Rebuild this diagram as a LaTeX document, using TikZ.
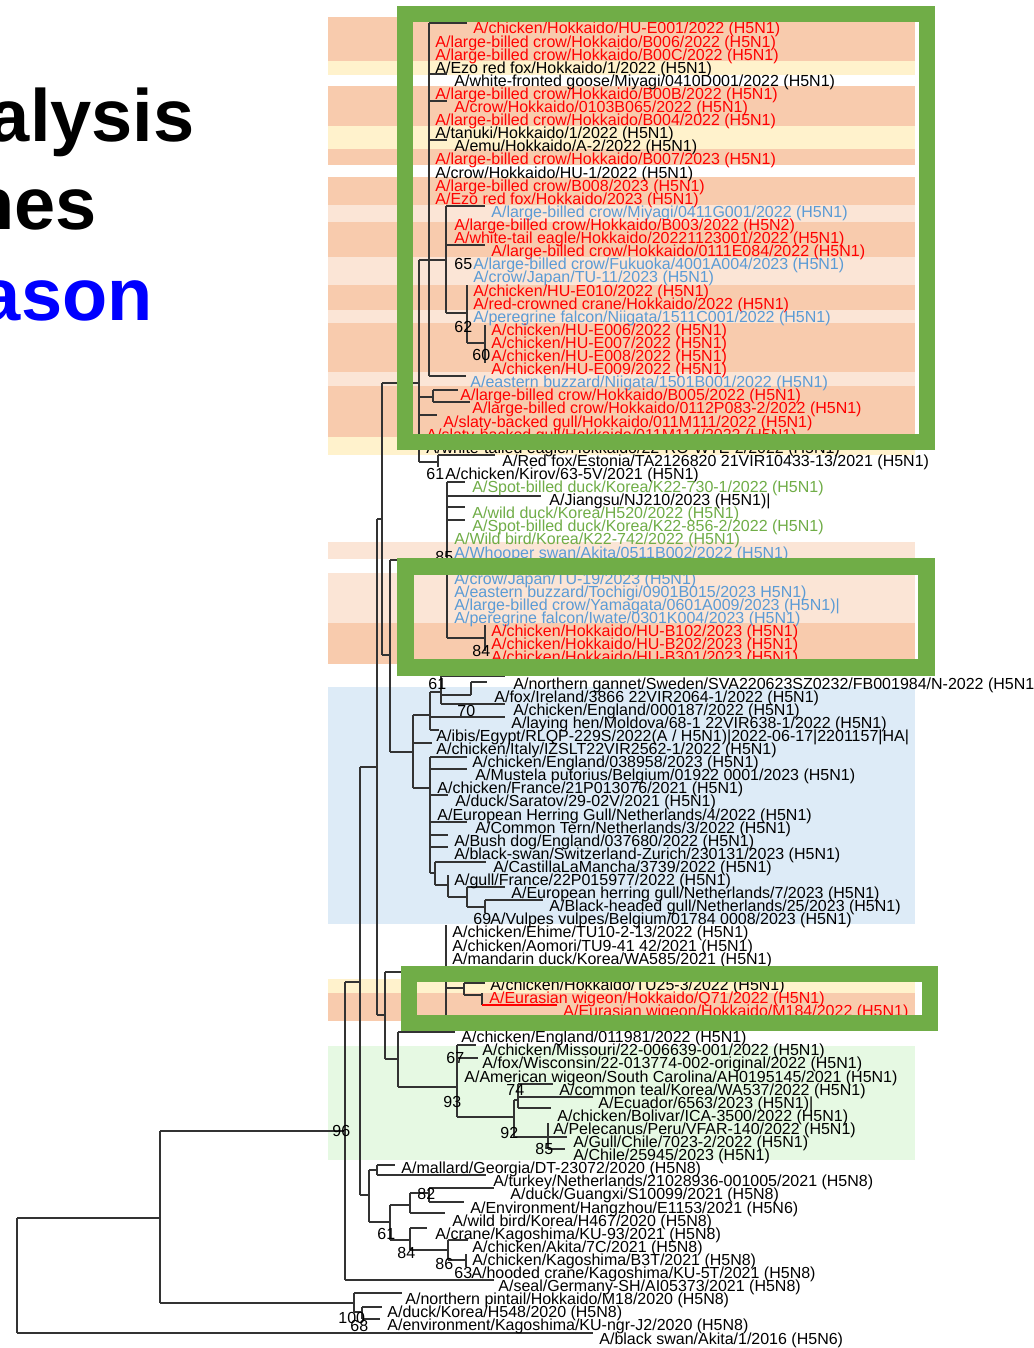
\documentclass[tikz,border=0pt]{standalone}
\usepackage{fontspec}
\setmainfont{Liberation Sans}
\definecolor{tred}{HTML}{FF0000}
\definecolor{tblue}{HTML}{5B9BD5}
\definecolor{tgreen}{HTML}{70AD47}
\definecolor{bsalmon}{HTML}{F8CBAD}
\definecolor{bcream}{HTML}{FFF2CC}
\definecolor{bpeach}{HTML}{FBE5D6}
\definecolor{bblue}{HTML}{DDEBF7}
\definecolor{bgreen}{HTML}{E6F9E3}
\definecolor{frameg}{HTML}{70AD47}
\definecolor{ttlblue}{HTML}{0000FF}
\newcommand\leafnode[5]{\node[leaf,text=#4] (#1) at (#2,{28.5+13.1*(#3-1)}) {#5};}
\newcommand\bsnode[4]{\node[bsl] (#1) at (#2,#3) {#4};}
\newcommand\hbr[3]{\draw[br] (#2,#1) -- (#3,#1);}
\newcommand\vbr[3]{\draw[br] (#1,#2) -- (#1,#3);}
\newcommand\bandrow[3]{\fill[#1] (328,#2) rectangle (915,#3);}
\tikzset{
  leaf/.style={anchor=base west, inner sep=0pt, yshift=-2.75pt, font=\fontsize{8}{9}\selectfont},
  bsl/.style={anchor=west, inner sep=0pt, font=\fontsize{8}{9}\selectfont},
  br/.style={draw=black!80, line width=0.55pt},
  frame/.style={draw=frameg},
  ttl/.style={anchor=base east, inner sep=0pt, font=\fontsize{37}{40}\selectfont\bfseries}
}
\begin{document}
\begin{tikzpicture}[x=0.5pt,y=-0.5pt]
\useasboundingbox (0,0) rectangle (1033,1348);
\fill[white] (0,0) rectangle (1033,1348);
% background bands
\bandrow{bsalmon}{17}{61}
\bandrow{bcream}{61}{75}
\bandrow{bsalmon}{86}{126}
\bandrow{bcream}{126}{149}
\bandrow{bsalmon}{149}{165}
\bandrow{bsalmon}{177}{205}
\bandrow{bpeach}{205}{222}
\bandrow{bsalmon}{222}{257}
\bandrow{bpeach}{257}{285}
\bandrow{bsalmon}{285}{310}
\bandrow{bpeach}{310}{323}
\bandrow{bsalmon}{323}{372}
\bandrow{bpeach}{372}{386}
\bandrow{bsalmon}{386}{437}
\bandrow{bcream}{437}{455}
\bandrow{bpeach}{542}{559}
\bandrow{bpeach}{573}{623}
\bandrow{bsalmon}{623}{664}
\bandrow{bblue}{687}{924}
\bandrow{bcream}{979}{993}
\bandrow{bsalmon}{993}{1021}
\bandrow{bgreen}{1046}{1160}
% root
\vbr{17}{1218}{1333}
\hbr{1218}{17}{160}
\hbr{1333}{17}{593}
\vbr{160}{1131}{1303}
\hbr{1131}{160}{345}
\hbr{1303}{160}{354}
\vbr{354}{1293}{1312}
\hbr{1293}{354}{402}
\hbr{1312}{354}{362}
\vbr{362}{1307}{1319}
\hbr{1307}{362}{382}
\hbr{1319}{362}{380}
% node 345 / 360
\vbr{345}{982}{1280}
\hbr{1280}{345}{494}
\hbr{982}{345}{360}
\vbr{360}{767}{1195}
\hbr{767}{360}{377}
\hbr{1195}{360}{369}
% H5N8 clade
\vbr{369}{1170}{1222}
\hbr{1170}{369}{377}
\vbr{377}{1165}{1175}
\hbr{1165}{377}{395}
\hbr{1175}{377}{486}
\hbr{1222}{369}{390}
\vbr{390}{1205}{1240}
\hbr{1205}{390}{410}
\vbr{410}{1193}{1213}
\hbr{1193}{410}{429}
\vbr{429}{1188}{1202}
\hbr{1188}{429}{494}
\hbr{1202}{429}{464}
\hbr{1213}{410}{445}
\hbr{1240}{390}{410}
\vbr{410}{1228}{1250}
\hbr{1228}{410}{427}
\hbr{1250}{410}{448}
\vbr{448}{1240}{1260}
\hbr{1240}{448}{468}
\hbr{1260}{448}{466}
\vbr{466}{1254}{1267}
% main spine
\vbr{377}{519}{1015}
\hbr{519}{377}{382}
\hbr{1015}{377}{385}
\vbr{385}{972}{1059}
\hbr{972}{385}{446}
\hbr{1059}{385}{398}
% Japan 2021-22 clade
\vbr{446}{925}{1015}
\hbr{988}{446}{464}
\vbr{464}{983}{995}
\hbr{983}{464}{485}
\hbr{995}{464}{482}
\vbr{482}{993}{1005}
\draw[br,draw=tred] (482,1005) -- (557,1005);
% American clade
\vbr{398}{1032}{1087}
\hbr{1032}{398}{455}
\hbr{1087}{398}{457}
\vbr{457}{1045}{1117}
\hbr{1045}{457}{476}
\hbr{1058}{457}{478}
\hbr{1117}{457}{514}
\vbr{514}{1100}{1137}
\hbr{1100}{514}{518}
\vbr{518}{1084}{1108}
\hbr{1084}{518}{553}
\hbr{1097}{518}{593}
\hbr{1108}{518}{551}
\hbr{1137}{514}{567}
\vbr{548}{1123}{1149}
\hbr{1149}{548}{565}
% upper spine
\vbr{382}{383}{655}
\hbr{383}{382}{419}
\hbr{655}{382}{390}
\vbr{390}{560}{752}
\hbr{560}{390}{447}
\hbr{752}{390}{413}
% clade 85
\vbr{447}{482}{638}
\hbr{482}{447}{465}
\hbr{496}{447}{541}
\hbr{507}{447}{465}
\hbr{520}{447}{465}
\hbr{638}{447}{485}
\vbr{485}{625}{651}
% frame-1 clade
\vbr{419}{260}{462}
\hbr{260}{419}{429}
\hbr{397}{419}{433}
\vbr{433}{390}{402}
\hbr{390}{433}{458}
\hbr{402}{433}{470}
\hbr{415}{419}{437}
\hbr{462}{419}{438}
\vbr{438}{455}{467}
\hbr{455}{438}{495}
\vbr{429}{23}{376}
\hbr{23}{429}{467}
\hbr{74}{429}{447}
\hbr{101}{429}{447}
\hbr{140}{429}{447}
\hbr{260}{429}{446}
\hbr{376}{429}{466}
\vbr{446}{206}{313}
\hbr{206}{446}{485}
\hbr{245}{446}{485}
\hbr{313}{446}{467}
\vbr{467}{285}{343}
\hbr{343}{467}{485}
\vbr{485}{325}{363}
% European clade
\vbr{413}{715}{788}
\hbr{715}{413}{430}
\hbr{743}{413}{432}
\hbr{788}{413}{430}
\vbr{430}{692}{730}
\hbr{692}{430}{441}
\hbr{717}{430}{505}
\hbr{730}{430}{439}
\vbr{441}{676}{704}
\hbr{676}{441}{505}
\hbr{695}{441}{471}
\vbr{471}{682}{695}
\hbr{682}{471}{487}
\hbr{704}{441}{505}
\vbr{430}{757}{873}
\hbr{757}{430}{467}
\hbr{769}{430}{467}
\hbr{795}{430}{448}
\hbr{822}{430}{467}
\hbr{835}{430}{448}
\hbr{847}{430}{448}
\hbr{873}{430}{435}
\vbr{435}{862}{885}
\hbr{862}{435}{486}
\hbr{885}{435}{448}
\vbr{448}{875}{897}
\hbr{897}{448}{467}
\vbr{467}{887}{907}
\hbr{887}{467}{505}
\hbr{907}{467}{485}
\vbr{485}{900}{913}
\hbr{900}{485}{543}
% leaves
\leafnode{l1}{473}{1}{tred}{A/chicken/Hokkaido/HU-E001/2022 (H5N1)}
\leafnode{l2}{435}{2}{tred}{A/large-billed crow/Hokkaido/B006/2022 (H5N1)}
\leafnode{l3}{435}{3}{tred}{A/large-billed crow/Hokkaido/B00C/2022 (H5N1)}
\leafnode{l4}{435}{4}{black}{A/Ezo red fox/Hokkaido/1/2022 (H5N1)}
\leafnode{l5}{454}{5}{black}{A/white-fronted goose/Miyagi/0410D001/2022 (H5N1)}
\leafnode{l6}{435}{6}{tred}{A/large-billed crow/Hokkaido/B00B/2022 (H5N1)}
\leafnode{l7}{454}{7}{tred}{A/crow/Hokkaido/0103B065/2022 (H5N1)}
\leafnode{l8}{435}{8}{tred}{A/large-billed crow/Hokkaido/B004/2022 (H5N1)}
\leafnode{l9}{435}{9}{black}{A/tanuki/Hokkaido/1/2022 (H5N1)}
\leafnode{l10}{454}{10}{black}{A/emu/Hokkaido/A-2/2022 (H5N1)}
\leafnode{l11}{435}{11}{tred}{A/large-billed crow/Hokkaido/B007/2023 (H5N1)}
\leafnode{l12}{435}{12}{black}{A/crow/Hokkaido/HU-1/2022 (H5N1)}
\leafnode{l13}{435}{13}{tred}{A/large-billed crow/B008/2023 (H5N1)}
\leafnode{l14}{435}{14}{tred}{A/Ezo red fox/Hokkaido/2023 (H5N1)}
\leafnode{l15}{491}{15}{tblue}{A/large-billed crow/Miyagi/0411G001/2022 (H5N1)}
\leafnode{l16}{454}{16}{tred}{A/large-billed crow/Hokkaido/B003/2022 (H5N2)}
\leafnode{l17}{454}{17}{tred}{A/white-tail eagle/Hokkaido/20221123001/2022 (H5N1)}
\leafnode{l18}{491}{18}{tred}{A/large-billed crow/Hokkaido/0111E084/2022 (H5N1)}
\leafnode{l19}{473}{19}{tblue}{A/large-billed crow/Fukuoka/4001A004/2023 (H5N1)}
\leafnode{l20}{473}{20}{tblue}{A/crow/Japan/TU-11/2023 (H5N1)}
\leafnode{l21}{473}{21}{tred}{A/chicken/HU-E010/2022 (H5N1)}
\leafnode{l22}{473}{22}{tred}{A/red-crowned crane/Hokkaido/2022 (H5N1)}
\leafnode{l23}{473}{23}{tblue}{A/peregrine falcon/Niigata/1511C001/2022 (H5N1)}
\leafnode{l24}{491}{24}{tred}{A/chicken/HU-E006/2022 (H5N1)}
\leafnode{l25}{491}{25}{tred}{A/chicken/HU-E007/2022 (H5N1)}
\leafnode{l26}{491}{26}{tred}{A/chicken/HU-E008/2022 (H5N1)}
\leafnode{l27}{491}{27}{tred}{A/chicken/HU-E009/2022 (H5N1)}
\leafnode{l28}{470}{28}{tblue}{A/eastern buzzard/Niigata/1501B001/2022 (H5N1)}
\leafnode{l29}{460}{29}{tred}{A/large-billed crow/Hokkaido/B005/2022 (H5N1)}
\leafnode{l30}{472}{30}{tred}{A/large-billed crow/Hokkaido/0112P083-2/2022 (H5N1)}
\leafnode{l31}{443}{31}{tred}{A/slaty-backed gull/Hokkaido/011M111/2022 (H5N1)}
\leafnode{l32}{426}{32}{tred}{A/slaty-backed gull/Hokkaido/011M114/2022 (H5N1)}
\leafnode{l33}{426}{33}{black}{A/white-tailed eagle/Hokkaido/22-RO-WTE-2/2022 (H5N1)}
\leafnode{l34}{502}{34}{black}{A/Red fox/Estonia/TA2126820 21VIR10433-13/2021 (H5N1)}
\leafnode{l35}{445}{35}{black}{A/chicken/Kirov/63-5V/2021 (H5N1)}
\leafnode{l36}{472}{36}{tgreen}{A/Spot-billed duck/Korea/K22-730-1/2022 (H5N1)}
\leafnode{l37}{549}{37}{black}{A/Jiangsu/NJ210/2023 (H5N1)|}
\leafnode{l38}{472}{38}{tgreen}{A/wild duck/Korea/H520/2022 (H5N1)}
\leafnode{l39}{472}{39}{tgreen}{A/Spot-billed duck/Korea/K22-856-2/2022 (H5N1)}
\leafnode{l40}{454}{40}{tgreen}{A/Wild bird/Korea/K22-742/2022 (H5N1)}
\leafnode{l41}{454}{41}{tblue}{A/Whooper swan/Akita/0511B002/2022 (H5N1)}
\leafnode{l43}{454}{43}{tblue}{A/crow/Japan/TU-19/2023 (H5N1)}
\leafnode{l44}{454}{44}{tblue}{A/eastern buzzard/Tochigi/0901B015/2023 H5N1)}
\leafnode{l45}{454}{45}{tblue}{A/large-billed crow/Yamagata/0601A009/2023 (H5N1)|}
\leafnode{l46}{454}{46}{tblue}{A/peregrine falcon/Iwate/0301K004/2023 (H5N1)}
\leafnode{l47}{491}{47}{tred}{A/chicken/Hokkaido/HU-B102/2023 (H5N1)}
\leafnode{l48}{491}{48}{tred}{A/chicken/Hokkaido/HU-B202/2023 (H5N1)}
\leafnode{l49}{491}{49}{tred}{A/chicken/Hokkaido/HU-B301/2023 (H5N1)}
\leafnode{l51}{513}{51}{black}{A/northern gannet/Sweden/SVA220623SZ0232/FB001984/N-2022 (H5N1)}
\leafnode{l52}{494}{52}{black}{A/fox/Ireland/3866 22VIR2064-1/2022 (H5N1)}
\leafnode{l53}{513}{53}{black}{A/chicken/England/000187/2022 (H5N1)}
\leafnode{l54}{511}{54}{black}{A/laying hen/Moldova/68-1 22VIR638-1/2022 (H5N1)}
\leafnode{l55}{436}{55}{black}{A/ibis/Egypt/RLQP-229S/2022(A / H5N1)|2022-06-17|2201157|HA|}
\leafnode{l56}{436}{56}{black}{A/chicken/Italy/IZSLT22VIR2562-1/2022 (H5N1)}
\leafnode{l57}{472}{57}{black}{A/chicken/England/038958/2023 (H5N1)}
\leafnode{l58}{475}{58}{black}{A/Mustela putorius/Belgium/01922 0001/2023 (H5N1)}
\leafnode{l59}{437}{59}{black}{A/chicken/France/21P013076/2021 (H5N1)}
\leafnode{l60}{455}{60}{black}{A/duck/Saratov/29-02V/2021 (H5N1)}
\leafnode{l61}{437}{61}{black}{A/European Herring Gull/Netherlands/4/2022 (H5N1)}
\leafnode{l62}{475}{62}{black}{A/Common Tern/Netherlands/3/2022 (H5N1)}
\leafnode{l63}{454}{63}{black}{A/Bush dog/England/037680/2022 (H5N1)}
\leafnode{l64}{454}{64}{black}{A/black-swan/Switzerland-Zurich/230131/2023 (H5N1)}
\leafnode{l65}{493}{65}{black}{A/CastillaLaMancha/3739/2022 (H5N1)}
\leafnode{l66}{454}{66}{black}{A/gull/France/22P015977/2022 (H5N1)}
\leafnode{l67}{511}{67}{black}{A/European herring gull/Netherlands/7/2023 (H5N1)}
\leafnode{l68}{549}{68}{black}{A/Black-headed gull/Netherlands/25/2023 (H5N1)}
\leafnode{l69}{490}{69}{black}{A/Vulpes vulpes/Belgium/01784 0008/2023 (H5N1)}
\leafnode{l70}{452}{70}{black}{A/chicken/Ehime/TU10-2-13/2022 (H5N1)}
\leafnode{l71}{452}{71}{black}{A/chicken/Aomori/TU9-41 42/2021 (H5N1)}
\leafnode{l72}{452}{72}{black}{A/mandarin duck/Korea/WA585/2021 (H5N1)}
\leafnode{l74}{490}{74}{black}{A/chicken/Hokkaido/TU25-3/2022 (H5N1)}
\leafnode{l75}{489}{75}{tred}{A/Eurasian wigeon/Hokkaido/Q71/2022 (H5N1)}
\leafnode{l76}{563}{76}{tred}{A/Eurasian wigeon/Hokkaido/M184/2022 (H5N1)}
\leafnode{l78}{461}{78}{black}{A/chicken/England/011981/2022 (H5N1)}
\leafnode{l79}{482}{79}{black}{A/chicken/Missouri/22-006639-001/2022 (H5N1)}
\leafnode{l80}{482}{80}{black}{A/fox/Wisconsin/22-013774-002-original/2022 (H5N1)}
\leafnode{l81}{464}{81}{black}{A/American wigeon/South Carolina/AH0195145/2021 (H5N1)}
\leafnode{l82}{559}{82}{black}{A/common teal/Korea/WA537/2022 (H5N1)}
\leafnode{l83}{598}{83}{black}{A/Ecuador/6563/2023 (H5N1)|}
\leafnode{l84}{557}{84}{black}{A/chicken/Bolivar/ICA-3500/2022 (H5N1)}
\leafnode{l85}{553}{85}{black}{A/Pelecanus/Peru/VFAR-140/2022 (H5N1)}
\leafnode{l86}{573}{86}{black}{A/Gull/Chile/7023-2/2022 (H5N1)}
\leafnode{l87}{573}{87}{black}{A/Chile/25945/2023 (H5N1)}
\leafnode{l88}{401}{88}{black}{A/mallard/Georgia/DT-23072/2020 (H5N8)}
\leafnode{l89}{493}{89}{black}{A/turkey/Netherlands/21028936-001005/2021 (H5N8)}
\leafnode{l90}{510}{90}{black}{A/duck/Guangxi/S10099/2021 (H5N8)}
\leafnode{l91}{470}{91}{black}{A/Environment/Hangzhou/E1153/2021 (H5N6)}
\leafnode{l92}{452}{92}{black}{A/wild bird/Korea/H467/2020 (H5N8)}
\leafnode{l93}{435}{93}{black}{A/crane/Kagoshima/KU-93/2021 (H5N8)}
\leafnode{l94}{472}{94}{black}{A/chicken/Akita/7C/2021 (H5N8)}
\leafnode{l95}{472}{95}{black}{A/chicken/Kagoshima/B3T/2021 (H5N8)}
\leafnode{l96}{471}{96}{black}{A/hooded crane/Kagoshima/KU-5T/2021 (H5N8)}
\leafnode{l97}{498}{97}{black}{A/seal/Germany-SH/AI05373/2021 (H5N8)}
\leafnode{l98}{405}{98}{black}{A/northern pintail/Hokkaido/M18/2020 (H5N8)}
\leafnode{l99}{387}{99}{black}{A/duck/Korea/H548/2020 (H5N8)}
\leafnode{l100}{387}{100}{black}{A/environment/Kagoshima/KU-ngr-J2/2020 (H5N8)}
\leafnode{l101}{599}{101}{black}{A/black swan/Akita/1/2016 (H5N6)}
% bootstrap values
\bsnode{b65}{454}{264}{65}
\bsnode{b62}{454}{327}{62}
\bsnode{b60}{472}{355}{60}
\bsnode{b61a}{426}{474}{61}
\bsnode{b85a}{435}{557}{85}
\bsnode{b84a}{472}{651}{84}
\bsnode{b61b}{428}{684}{61}
\bsnode{b70}{457}{711}{70}
\bsnode{b69}{473}{919}{69}
\bsnode{b67}{446}{1058}{67}
\bsnode{b74}{506}{1090}{74}
\bsnode{b93}{443}{1102}{93}
\bsnode{b92}{500}{1133}{92}
\bsnode{b85b}{535}{1149}{85}
\bsnode{b96}{332}{1131}{96}
\bsnode{b82}{417}{1194}{82}
\bsnode{b61c}{377}{1234}{61}
\bsnode{b84b}{397}{1253}{84}
\bsnode{b86}{435}{1264}{86}
\bsnode{b63}{454}{1273}{63}
\bsnode{b100}{338}{1318}{100}
\bsnode{b68}{350}{1326}{68}
% green frames
\draw[frame,line width=8pt] (405,14) rectangle (927,442);
\draw[frame,line width=8.5pt] (405.5,566.5) rectangle (926.5,667.5);
\draw[frame,line width=8pt] (409,974) rectangle (930,1023);
% title fragments
\node[ttl] (t1) at (195,142) {alysis};
\node[ttl] (t2) at (97,230) {nes};
\node[ttl,text=ttlblue] (t3) at (153,320) {ason};
\end{tikzpicture}
\end{document}
